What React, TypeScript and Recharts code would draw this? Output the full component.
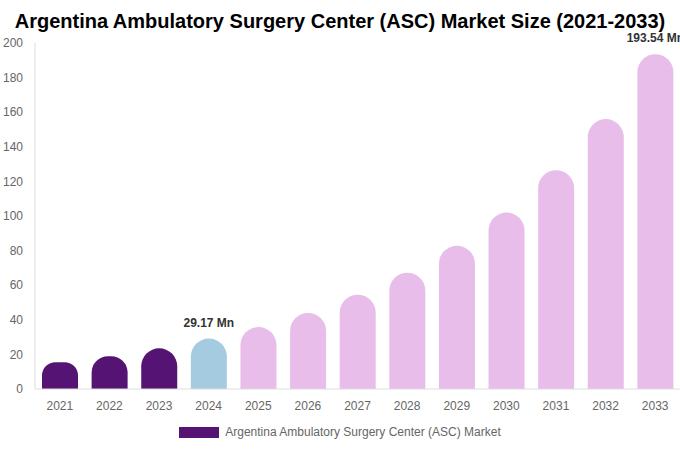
import React, { useEffect } from "react";
import { BarChart, Bar, XAxis, YAxis, Cell, LabelList } from "recharts";

const years = ["2021", "2022", "2023", "2024", "2025", "2026", "2027", "2028", "2029", "2030", "2031", "2032", "2033"];
const marketSize = [15.5, 19, 23.5, 29.17, 35.8, 44, 54.5, 67.2, 82.8, 102, 126.5, 156, 193.54];
const barLabels = ["", "", "", "29.17 Mn", "", "", "", "", "", "", "", "", "193.54 Mn"];
const yTicks = [0, 20, 40, 60, 80, 100, 120, 140, 160, 180, 200];

const HISTORIC = "#551473";
const BASE = "#a4cbe0";
const FORECAST = "#e8bde9";

const data = years.map((year, i) => ({ year, value: marketSize[i], label: barLabels[i] }));

function colorFor(i: number) {
  if (i < 3) return HISTORIC;
  if (i === 3) return BASE;
  return FORECAST;
}

const font = "'Liberation Sans', Arial, sans-serif";

function TopLabel(props: any) {
  const { x, y, width, value } = props;
  if (!value) return null;
  return (
    <text
      x={x + width / 2}
      y={y - 12}
      textAnchor="middle"
      fontSize={12}
      fontWeight="bold"
      fill="#333"
      fontFamily={font}
    >
      {value}
    </text>
  );
}

export default function App() {
  useEffect(() => {
    document.body.style.margin = "0";
  }, []);

  return (
    <div style={{ position: "relative", width: 680, height: 450, fontFamily: font, background: "#fff" }}>
      <div
        style={{
          position: "absolute",
          top: 8,
          left: 0,
          width: 680,
          textAlign: "center",
          fontSize: 20,
          fontWeight: "bold",
          color: "#000",
          lineHeight: "26px",
        }}
      >
        Argentina Ambulatory Surgery Center (ASC) Market Size (2021-2033)
      </div>
      <BarChart
        width={680}
        height={450}
        data={data}
        margin={{ top: 43, right: 0, bottom: 31, left: 0 }}
        style={{ position: "absolute", top: 0, left: 0 }}
      >
        <XAxis
          dataKey="year"
          height={30}
          tickLine={false}
          tickMargin={6}
          axisLine={{ stroke: "#ddd" }}
          tick={{ fontSize: 12, fill: "#666", fontFamily: font }}
          interval={0}
        />
        <YAxis
          width={35}
          domain={[0, 200]}
          ticks={yTicks}
          tickLine={false}
          tickMargin={6}
          axisLine={{ stroke: "#ddd" }}
          tick={{ fontSize: 12, fill: "#666", fontFamily: font }}
          interval={0}
        />
        <Bar dataKey="value" barSize={36} radius={[18, 18, 0, 0]} isAnimationActive={false}>
          {data.map((d, i) => (
            <Cell key={d.year} fill={colorFor(i)} />
          ))}
          <LabelList dataKey="label" content={TopLabel} />
        </Bar>
      </BarChart>
      <div
        style={{
          position: "absolute",
          top: 425,
          left: 0,
          width: 680,
          display: "flex",
          justifyContent: "center",
          alignItems: "center",
          fontSize: 12,
          color: "#666",
        }}
      >
        <span style={{ display: "inline-block", width: 40, height: 11, background: HISTORIC, marginRight: 6 }} />
        <span>Argentina Ambulatory Surgery Center (ASC) Market</span>
      </div>
    </div>
  );
}
